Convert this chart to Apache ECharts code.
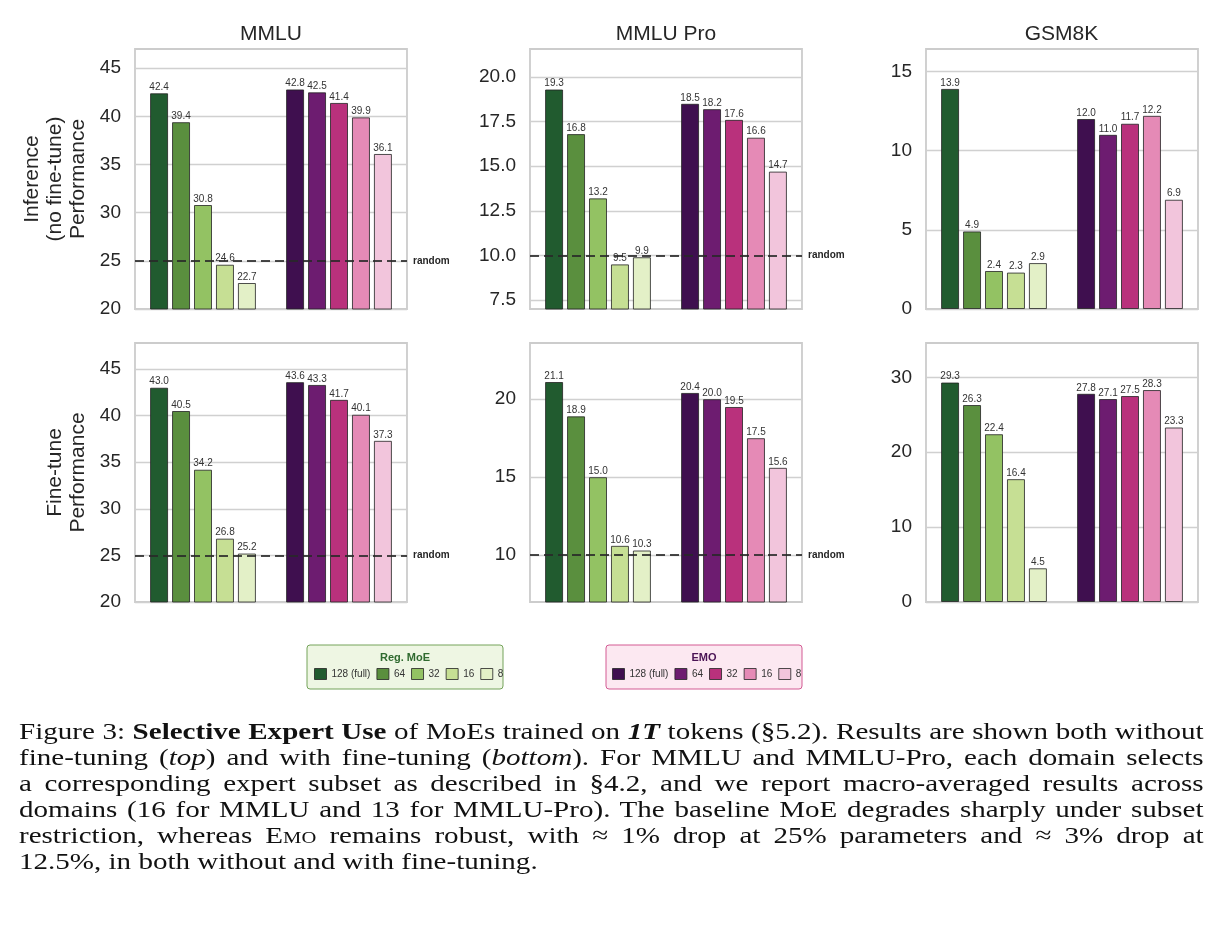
<!DOCTYPE html>
<html>
<head>
<meta charset="utf-8">
<title>Selective Expert Use</title>
<script src="https://cdn.jsdelivr.net/npm/echarts@6/dist/echarts.min.js"></script>
<style>
body { margin: 0; background: #fff; }
#main { position: absolute; left: 0; top: 0; width: 1222px; height: 926px; }
#caption { position: absolute; left: 19px; top: 718px; font-family: "Liberation Serif", "Times New Roman", serif; font-size: 24px; line-height: 26px; color: #111; }
/* 原图文字横向偏宽, 用 scaleX 拉伸 */
#caption div { width: 979px; transform: scaleX(1.21); transform-origin: 0 0; text-align: justify; text-align-last: justify; }
#caption div.last { text-align-last: left; }
.sc { font-variant: small-caps; }
</style>
</head>
<body>
<div id="main"></div>
<div id="caption">
<div>Figure 3: <b>Selective Expert Use</b> of MoEs trained on <b><i>1T</i></b> tokens (§5.2). Results are shown both without</div>
<div>fine-tuning (<i>top</i>) and with fine-tuning (<i>bottom</i>). For MMLU and MMLU-Pro, each domain selects</div>
<div>a corresponding expert subset as described in §4.2, and we report macro-averaged results across</div>
<div>domains (16 for MMLU and 13 for MMLU-Pro). The baseline MoE degrades sharply under subset</div>
<div>restriction, whereas E<span class="sc">mo</span> remains robust, with ≈ 1% drop at 25% parameters and ≈ 3% drop at</div>
<div class="last">12.5%, in both without and with fine-tuning.</div>
</div>
<script>
// 数据
var groups = ['Reg. MoE', 'EMO'];
var sizes = ['128 (full)', '64', '32', '16', '8'];

var mmluInferMoe = [42.4, 39.4, 30.8, 24.6, 22.7];
var mmluInferEmo = [42.8, 42.5, 41.4, 39.9, 36.1];
var mmluProInferMoe = [19.3, 16.8, 13.2, 9.5, 9.9];
var mmluProInferEmo = [18.5, 18.2, 17.6, 16.6, 14.7];
var gsmInferMoe = [13.9, 4.9, 2.4, 2.3, 2.9];
var gsmInferEmo = [12.0, 11.0, 11.7, 12.2, 6.9];

var mmluTuneMoe = [43.0, 40.5, 34.2, 26.8, 25.2];
var mmluTuneEmo = [43.6, 43.3, 41.7, 40.1, 37.3];
var mmluProTuneMoe = [21.1, 18.9, 15.0, 10.6, 10.3];
var mmluProTuneEmo = [20.4, 20.0, 19.5, 17.5, 15.6];
var gsmTuneMoe = [29.3, 26.3, 22.4, 16.4, 4.5];
var gsmTuneEmo = [27.8, 27.1, 27.5, 28.3, 23.3];

// 刻度
var mmluTicks = [20, 25, 30, 35, 40, 45];
var mmluProInferTicks = [7.5, 10, 12.5, 15, 17.5, 20];
var mmluProTuneTicks = [10, 15, 20];
var gsmInferTicks = [0, 5, 10, 15];
var gsmTuneTicks = [0, 10, 20, 30];

var greenColors = ['#215b2f', '#5a8f3e', '#93c263', '#c6df94', '#e3f0c7'];
var pinkColors = ['#3f0f4f', '#6d1c70', '#b9317c', '#e58ab6', '#f2c5dc'];

var panels = [
	{ title : 'MMLU', moe : mmluInferMoe, emo : mmluInferEmo, ticks : mmluTicks, min : 20, max : 47, step : 5, digits : 0, random : 25, col : 0, row : 0 },
	{ title : 'MMLU Pro', moe : mmluProInferMoe, emo : mmluProInferEmo, ticks : mmluProInferTicks, min : 7, max : 21.57, step : 0.5, digits : 1, random : 10, col : 1, row : 0 },
	{ title : 'GSM8K', moe : gsmInferMoe, emo : gsmInferEmo, ticks : gsmInferTicks, min : 0, max : 16.42, step : 5, digits : 0, random : null, col : 2, row : 0 },
	{ title : '', moe : mmluTuneMoe, emo : mmluTuneEmo, ticks : mmluTicks, min : 20, max : 47.8, step : 5, digits : 0, random : 25, col : 0, row : 1 },
	{ title : '', moe : mmluProTuneMoe, emo : mmluProTuneEmo, ticks : mmluProTuneTicks, min : 7, max : 23.6, step : 1, digits : 0, random : 10, col : 1, row : 1 },
	{ title : '', moe : gsmTuneMoe, emo : gsmTuneEmo, ticks : gsmTuneTicks, min : 0, max : 34.58, step : 10, digits : 0, random : null, col : 2, row : 1 }
];
var rowNames = [ 'Inference\n(no fine-tune)\nPerformance', 'Fine-tune\nPerformance' ];

var colLeft = [ 135, 530, 926 ];
var colCenter = [ 271, 666, 1061.5 ];
var rowTop = [ 49, 343 ];
var plotW = 272, plotH = 260;
var fontName = '"Liberation Sans", Arial, sans-serif';

function tickFormatter(ticks, digits) {
	return function(v) {
		for (var i = 0; i < ticks.length; i++) {
			if (Math.abs(v - ticks[i]) < 1e-6) {
				return ticks[i].toFixed(digits);
			}
		}
		return '';
	};
}

var grid = [], xAxis = [], yAxis = [], series = [], title = [];
var moeNames = [], emoNames = [];
for (var i = 0; i < sizes.length; i++) {
	moeNames.push('Reg. MoE|' + sizes[i]);
	emoNames.push('EMO|' + sizes[i]);
}

panels.forEach(function(p, k) {
	grid.push({
		left : colLeft[p.col],
		top : rowTop[p.row],
		width : plotW,
		height : plotH - p.row,
		show : true,
		borderColor : '#cccccc',
		borderWidth : 1.8,
		backgroundColor : 'transparent'
	});
	xAxis.push({
		type : 'category',
		gridIndex : k,
		data : groups,
		axisLine : { show : false },
		axisTick : { show : false },
		axisLabel : { show : false }
	});
	var ya = {
		type : 'value',
		gridIndex : k,
		min : p.min,
		max : p.max,
		interval : p.step,
		axisLine : { show : false },
		axisTick : { show : false },
		splitLine : { show : false },
		axisLabel : {
			margin : 14,
			fontSize : 19,
			color : '#262626',
			fontFamily : fontName,
			formatter : tickFormatter(p.ticks, p.digits)
		}
	};
	if (p.col === 0) {
		ya.name = rowNames[p.row];
		ya.nameLocation = 'middle';
		ya.nameGap = 45;
		ya.nameTextStyle = { fontSize : 21, lineHeight : 23, color : '#262626', fontFamily : fontName };
	}
	yAxis.push(ya);

	if (p.title) {
		title.push({
			text : p.title,
			left : colCenter[p.col],
			top : 24,
			padding : 0,
			textAlign : 'center',
			textStyle : { fontSize : 21, fontWeight : 'normal', color : '#262626', fontFamily : fontName }
		});
	}

	// 柱子: 每个规模一个堆叠, 绿色在第一组, 粉色在第二组
	for (var i = 0; i < sizes.length; i++) {
		[ [ moeNames[i], [ p.moe[i], '-' ], greenColors[i] ],
		  [ emoNames[i], [ '-', p.emo[i] ], pinkColors[i] ] ].forEach(function(s) {
			series.push({
				name : s[0],
				type : 'bar',
				xAxisIndex : k,
				yAxisIndex : k,
				stack : 'p' + k + 's' + i,
				data : s[1],
				barWidth : 18,
				barGap : '22%',
				itemStyle : { color : s[2], borderColor : 'rgba(35,35,35,0.8)', borderWidth : 1 },
				label : {
					show : true,
					position : 'top',
					distance : 1,
					fontSize : 10,
					color : '#333',
					fontFamily : fontName,
					formatter : function(prm) {
						return typeof prm.value === 'number' ? prm.value.toFixed(1) : '';
					}
				},
				z : 2
			});
		});
	}

	// 网格线
	series.push({
		type : 'line',
		xAxisIndex : k,
		yAxisIndex : k,
		data : [ '-', '-' ],
		silent : true,
		showSymbol : false,
		markLine : {
			silent : true,
			symbol : 'none',
			z : 1,
			label : { show : false },
			lineStyle : { color : '#d0d0d0', width : 1.3, type : 'solid' },
			data : p.ticks.map(function(t) { return { yAxis : t }; })
		}
	});

	// random 虚线
	if (p.random !== null) {
		series.push({
			type : 'line',
			xAxisIndex : k,
			yAxisIndex : k,
			data : [ '-', '-' ],
			silent : true,
			showSymbol : false,
			markLine : {
				silent : true,
				symbol : 'none',
				z : 6,
				lineStyle : { color : 'rgba(40,40,40,0.85)', width : 2, type : [ 9, 5 ] },
				label : {
					show : true,
					position : 'end',
					distance : 6,
					formatter : 'random',
					fontSize : 10,
					fontWeight : 'bold',
					color : '#262626',
					fontFamily : fontName
				},
				data : [ { yAxis : p.random } ]
			}
		});
	}
});

function legendOf(names, left) {
	return {
		data : names,
		left : left,
		top : 668,
		padding : 0,
		icon : 'rect',
		itemWidth : 12,
		itemHeight : 11,
		itemGap : 6,
		selectedMode : false,
		itemStyle : { borderColor : 'rgba(35,35,35,0.8)', borderWidth : 1 },
		textStyle : { fontSize : 10, color : '#333', fontFamily : fontName },
		formatter : function(name) {
			return name.split('|')[1];
		}
	};
}

var option = {
	animation : false,
	backgroundColor : '#ffffff',
	textStyle : { fontFamily : fontName },
	title : title,
	grid : grid,
	xAxis : xAxis,
	yAxis : yAxis,
	series : series,
	legend : [ legendOf(moeNames, 314), legendOf(emoNames, 612) ],
	graphic : [
		{ type : 'rect', z : -1, shape : { x : 307, y : 645, width : 196, height : 44, r : 3 }, style : { fill : '#eef6e3', stroke : '#74a35a', lineWidth : 1 } },
		{ type : 'text', z : 1, x : 405, y : 658, style : { text : 'Reg. MoE', align : 'center', verticalAlign : 'middle', fontSize : 11, fontWeight : 'bold', fill : '#2f6a2f', fontFamily : fontName } },
		{ type : 'rect', z : -1, shape : { x : 606, y : 645, width : 196, height : 44, r : 3 }, style : { fill : '#fce8f1', stroke : '#d35b93', lineWidth : 1 } },
		{ type : 'text', z : 1, x : 704, y : 658, style : { text : 'EMO', align : 'center', verticalAlign : 'middle', fontSize : 11, fontWeight : 'bold', fill : '#4b1455', fontFamily : fontName } }
	]
};

var myChart = echarts.init(document.getElementById('main'));
myChart.setOption(option);
</script>
</body>
</html>
